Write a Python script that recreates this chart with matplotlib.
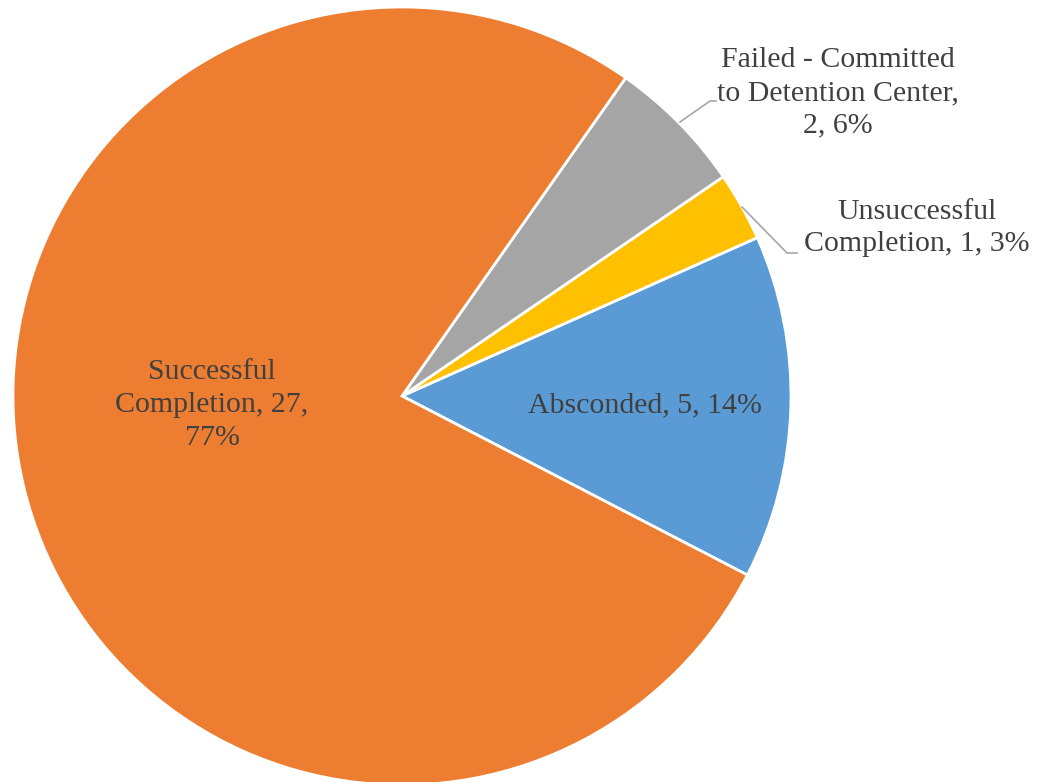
import matplotlib.pyplot as plt

labels = ["Absconded", "Unsuccessful\nCompletion", "Failed - Committed\nto Detention Center", "Successful\nCompletion"]
counts = [5, 1, 2, 27]
colors = ["#5B9BD5", "#FFC000", "#A5A5A5", "#ED7D31"]

plt.rcParams['font.family'] = ['Liberation Serif', 'DejaVu Serif']
text_color = "#404040"

W, H = 1050, 782
fig = plt.figure(figsize=(W / 100, H / 100), dpi=100)
ax = fig.add_axes([0, 0, 1, 1])

cx, cy, r = 402, H - 396, 389
ax.pie(counts, center=(cx, cy), radius=r, startangle=-27.4, counterclock=True,
       colors=colors, wedgeprops=dict(edgecolor="white", linewidth=2))
ax.set_xlim(0, W)
ax.set_ylim(0, H)
ax.set_aspect("equal")
ax.axis("off")

total = sum(counts)
pcts = [round(100 * c / total) for c in counts]
# data labels, wrapped like the originals
texts = [
    f"Absconded, {counts[0]}, {pcts[0]}%",
    f"Unsuccessful\nCompletion, {counts[1]}, {pcts[1]}%",
    f"Failed - Committed\nto Detention Center,\n{counts[2]}, {pcts[2]}%",
    f"Successful\nCompletion, {counts[3]},\n{pcts[3]}%",
]

label_pos = [(645, 405), (917, 228), (838, 93), (212, 405)]
for t, (x, y) in zip(texts, label_pos):
    ax.text(x, H - y, t, ha="center", va="center", fontsize=21.5,
            color=text_color, linespacing=1.33)

# leader lines for the outside labels
ax.plot([680, 710, 716], [H - 122, H - 101, H - 101], color="#A6A6A6", lw=1.2)
ax.plot([742, 787, 797], [H - 207, H - 253, H - 253], color="#A6A6A6", lw=1.2)

fig.savefig("out.png", dpi=100)
